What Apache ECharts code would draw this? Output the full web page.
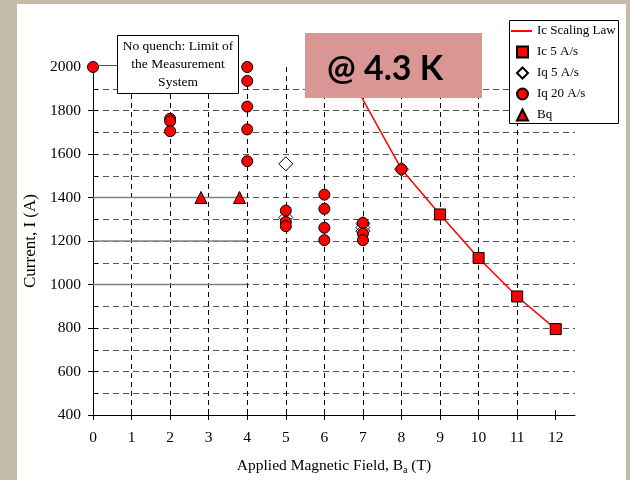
<!DOCTYPE html>
<html>
<head>
<meta charset="utf-8">
<script src="https://cdn.jsdelivr.net/npm/echarts@6/dist/echarts.min.js"></script>
<style>
html,body{margin:0;padding:0;background:#fff;}
#c{width:630px;height:480px;}
</style>
</head>
<body>
<div id="c"></div>
<script>
// ---- data ----
const xTicks = [0,1,2,3,4,5,6,7,8,9,10,11,12];
const yTicks = [400,600,800,1000,1200,1400,1600,1800,2000];

const scalingLawB = [6.6, 7, 8, 9, 10, 11, 12];
const scalingLawI = [2000, 1850, 1530, 1322, 1122, 945, 795];

const ic5B = [9, 10, 11, 12];
const ic5I = [1322, 1122, 945, 795];

const iq5B = [5, 5, 7, 7, 7, 8];
const iq5I = [1555, 1308, 1280, 1262, 1245, 1530];

const iq20B = [0, 2, 2, 2, 4, 4, 4, 4, 4, 5, 5, 5, 6, 6, 6, 6, 7, 7, 7, 8];
const iq20I = [2000, 1762, 1751, 1705, 2000, 1936, 1818, 1713, 1567, 1340, 1288, 1268, 1413, 1348, 1261, 1204, 1283, 1234, 1204, 1530];

const bqB = [2.8, 3.8];
const bqI = [1400, 1400];

const guideLevels = [1400, 1200, 1000];
const guideB = [0, 4];

const names = ['Ic Scaling Law', 'Ic 5 A/s', 'Iq 5 A/s', 'Iq 20 A/s', 'Bq'];

// ---- helpers ----
const zip = (a, b) => a.map((v, i) => [v, b[i]]);
const serif = 'Liberation Serif';
const RED = '#FF0000';

const chart = echarts.init(document.getElementById('c'), null, {renderer: 'canvas'});

const guideSeries = guideLevels.map(lv => ({
  type: 'line',
  data: guideB.map(b => [b, lv]),
  symbol: 'none',
  silent: true,
  lineStyle: {color: '#808080', width: 1.5},
  z: 1
}));

const legendText = {fontFamily: serif, fontSize: 13, color: '#000', lineHeight: 14};

const option = {
  backgroundColor: '#ffffff',
  animation: false,
  grid: {left: 93, right: 55, top: 67, bottom: 62, containLabel: false},
  legend: [
    {
      data: [names[0]],
      orient: 'vertical',
      left: 511, top: 24,
      padding: 0,
      icon: 'rect',
      itemWidth: 21, itemHeight: 2,
      selectedMode: false,
      textStyle: legendText,
      z: 6
    },
    {
      data: names.slice(1),
      orient: 'vertical',
      left: 516, top: 45,
      padding: 0,
      itemWidth: 11, itemHeight: 11,
      itemGap: 7,
      selectedMode: false,
      textStyle: Object.assign({}, legendText, {padding: [0, 0, 0, 4]}),
      z: 6
    }
  ],
  xAxis: [
    {
      type: 'value', min: 0, max: 12.5, interval: 1, position: 'bottom',
      axisLine: {show: true, onZero: false, lineStyle: {color: '#000', width: 1}},
      axisTick: {show: true, length: 5, inside: false, customValues: xTicks, lineStyle: {color: '#000'}},
      axisLabel: {show: true, customValues: xTicks, margin: 15, fontFamily: serif, fontSize: 15.5, color: '#000'},
      splitLine: {show: false},
      name: 'Applied Magnetic Field, B{sub|a} (T)',
      nameLocation: 'middle',
      nameGap: 42,
      nameTextStyle: {fontFamily: serif, fontSize: 15.5, color: '#000',
        rich: {sub: {fontFamily: serif, fontSize: 10, color: '#000', padding: [8, 0, 0, 0]}}}
    },
    {
      type: 'value', min: 0, max: 12.5, interval: 0.5, position: 'bottom',
      axisLine: {show: false, onZero: false},
      axisTick: {show: true, inside: true, length: 5, customValues: xTicks, lineStyle: {color: '#000'}},
      axisLabel: {show: false},
      splitLine: {show: true, showMinLine: false, showMaxLine: false,
        lineStyle: {color: '#000', width: 1, type: [5, 4]}}
    }
  ],
  yAxis: [
    {
      type: 'value', min: 400, max: 2000, interval: 200, position: 'left',
      axisLine: {show: true, onZero: false, lineStyle: {color: '#000', width: 1}},
      axisTick: {show: true, length: 5, inside: false, lineStyle: {color: '#000'}},
      axisLabel: {show: true, margin: 12, fontFamily: serif, fontSize: 15.5, color: '#000',
        customValues: yTicks, formatter: v => String(v)},
      splitLine: {show: false},
      name: 'Current, I (A)',
      nameLocation: 'middle',
      nameGap: 46,
      nameTextStyle: {fontFamily: serif, fontSize: 17, color: '#000'}
    },
    {
      type: 'value', min: 400, max: 2000, interval: 100, position: 'left',
      axisLine: {show: false, onZero: false},
      axisTick: {show: true, inside: true, length: 5, lineStyle: {color: '#000'}},
      axisLabel: {show: false},
      splitLine: {show: true, showMinLine: false, showMaxLine: false,
        lineStyle: {color: '#555', width: 1, type: [6, 4]}}
    }
  ],
  series: [
    ...guideSeries,
    {
      name: names[0], type: 'line', data: zip(scalingLawB, scalingLawI),
      symbol: 'none', showSymbol: false, smooth: false,
      lineStyle: {color: RED, width: 1.5}, itemStyle: {color: RED}, z: 3
    },
    {
      name: names[1], type: 'scatter', data: zip(ic5B, ic5I),
      symbol: 'rect', symbolSize: 11,
      itemStyle: {color: RED, borderColor: '#000', borderWidth: 1, opacity: 1}, z: 4
    },
    {
      name: names[2], type: 'scatter', data: zip(iq5B, iq5I),
      symbol: 'diamond', symbolSize: 14,
      itemStyle: {color: '#fff', borderColor: '#000', borderWidth: 1, opacity: 1}, z: 4
    },
    {
      name: names[3], type: 'scatter', data: zip(iq20B, iq20I),
      symbol: 'circle', symbolSize: 11,
      itemStyle: {color: RED, borderColor: '#000', borderWidth: 1, opacity: 1}, z: 5
    },
    {
      name: names[4], type: 'scatter', data: zip(bqB, bqI),
      symbol: 'triangle', symbolSize: 12,
      itemStyle: {color: RED, borderColor: '#000', borderWidth: 1, opacity: 1}, z: 5
    }
  ],
  graphic: [
    // slide frame strips
    {type: 'rect', shape: {x: 0, y: 0, width: 17, height: 480}, style: {fill: '#C5BCA9'}, z: 200, silent: true},
    {type: 'rect', shape: {x: 0, y: 0, width: 630, height: 4}, style: {fill: '#C5BCA9'}, z: 200, silent: true},
    {type: 'rect', shape: {x: 626, y: 0, width: 4, height: 480}, style: {fill: '#C5BCA9'}, z: 200, silent: true},
    // legend frame (above grid lines, below legend items)
    {type: 'rect', shape: {x: 509.5, y: 20.5, width: 109, height: 103}, style: {fill: '#fff', stroke: '#000', lineWidth: 1}, z: 3, silent: true},
    // annotation leader + box
    {type: 'line', shape: {x1: 97, y1: 65.5, x2: 118, y2: 65.5}, style: {stroke: '#555', lineWidth: 1}, z: 50, silent: true},
    {type: 'rect', shape: {x: 117.5, y: 35.5, width: 121, height: 58}, style: {fill: '#fff', stroke: '#000', lineWidth: 1}, z: 50, silent: true},
    {type: 'text', x: 178, y: 64, z: 51, silent: true,
      style: {text: 'No quench: Limit of\nthe Measurement\nSystem', fontFamily: serif, fontSize: 13.5,
        lineHeight: 18, fill: '#000', textAlign: 'center', textVerticalAlign: 'middle'}},
    // temperature label
    {type: 'rect', shape: {x: 305, y: 33, width: 177, height: 65}, style: {fill: '#D99694'}, z: 100, silent: true},
    {type: 'text', x: 385, y: 69, z: 101, silent: true,
      style: {text: '@ 4.3 K', fontFamily: 'Lato', fontWeight: 'bold', fontSize: 34, fill: '#000',
        textAlign: 'center', textVerticalAlign: 'middle'}}
  ]
};

chart.setOption(option);
</script>
</body>
</html>
